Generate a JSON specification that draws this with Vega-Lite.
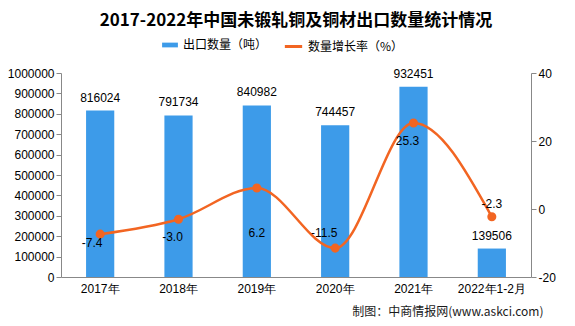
{
  "$schema": "https://vega.github.io/schema/vega-lite/v6.json",
  "width": 470,
  "height": 204,
  "autosize": {"type": "none"},
  "padding": {"left": 61, "top": 73, "right": 44, "bottom": 49},
  "background": "white",
  "config": {
    "view": {"stroke": null},
    "font": "Noto Sans CJK SC",
    "locale": {"number": {"decimal": ".", "thousands": ",", "grouping": [3], "currency": ["$", ""], "minus": "-"}},
    "axis": {"domainColor": "#888888", "tickColor": "#888888", "labelColor": "#000000", "labelFont": "Liberation Sans", "labelFontSize": 12, "grid": false, "labelOverlap": false}
  },
  "title": {
    "text": "2017-2022年中国未锻轧铜及铜材出口数量统计情况",
    "font": "Noto Sans CJK SC",
    "fontSize": 17,
    "fontWeight": "bold",
    "color": "#000000",
    "anchor": "middle",
    "offset": 6
  },
  "data": {
    "values": [
      {"year": "2017年", "qty": 816024, "growth": -7.4, "s1": "出口数量（吨）", "s2": "数量增长率（%）"},
      {"year": "2018年", "qty": 791734, "growth": -3.0, "s1": "出口数量（吨）", "s2": "数量增长率（%）"},
      {"year": "2019年", "qty": 840982, "growth": 6.2, "s1": "出口数量（吨）", "s2": "数量增长率（%）"},
      {"year": "2020年", "qty": 744457, "growth": -11.5, "s1": "出口数量（吨）", "s2": "数量增长率（%）"},
      {"year": "2021年", "qty": 932451, "growth": 25.3, "s1": "出口数量（吨）", "s2": "数量增长率（%）"},
      {"year": "2022年1-2月", "qty": 139506, "growth": -2.3, "s1": "出口数量（吨）", "s2": "数量增长率（%）"}
    ]
  },
  "encoding": {
    "x": {
      "field": "year", "type": "nominal", "sort": null,
      "scale": {"paddingInner": 0.64, "paddingOuter": 0.32},
      "axis": {"labelAngle": 0, "title": "制图：中商情报网(www.askci.com)", "titleX": 482, "titleAlign": "right", "titleFontSize": 12, "titleFontWeight": "normal", "titleColor": "#1a1a1a", "titlePadding": 12, "ticks": false, "labelPadding": 6}
    }
  },
  "layer": [
    {
      "encoding": {
        "y": {"field": "qty", "type": "quantitative", "scale": {"domain": [0, 1000000]}, "axis": {"title": null, "format": "d", "values": [0,100000,200000,300000,400000,500000,600000,700000,800000,900000,1000000], "labelFontSize": 12, "labelOverlap": false}}
      },
      "layer": [
        {
          "mark": {"type": "bar"},
          "encoding": {
            "fill": {"field": "s1", "type": "nominal", "scale": {"range": ["#3d9be9"]}, "legend": {"title": null, "orient": "none", "legendX": 100, "legendY": -37, "symbolType": "M-1,-0.3L1,-0.3L1,0.3L-1,0.3Z", "symbolSize": 250, "labelFontSize": 12, "labelColor": "#000000"}}
          }
        },
        {
          "mark": {"type": "text", "baseline": "bottom", "dy": -6, "font": "Liberation Sans", "fontSize": 12, "color": "#000000"},
          "encoding": {
            "text": {"field": "qty", "type": "quantitative", "format": "d"}
          }
        }
      ]
    },
    {
      "encoding": {
        "y": {"field": "growth", "type": "quantitative", "scale": {"domain": [-20, 40]}, "axis": {"orient": "right", "title": null, "values": [-20, 0, 20, 40], "labelFontSize": 12}}
      },
      "layer": [
        {
          "mark": {"type": "line", "interpolate": "monotone", "strokeWidth": 2.5, "point": {"filled": true, "size": 50, "color": "#f26522"}},
          "encoding": {
            "stroke": {"field": "s2", "type": "nominal", "scale": {"range": ["#f26522"]}, "legend": {"title": null, "orient": "none", "legendX": 222, "legendY": -37, "symbolType": "stroke", "symbolStrokeWidth": 3, "symbolSize": 300, "labelFontSize": 12, "labelColor": "#000000"}}
          }
        },
        {
          "transform": [{"filter": "datum.growth == -3.0 || datum.growth == 25.3"}],
          "mark": {"type": "text", "dy": 18, "dx": -6, "font": "Liberation Sans", "fontSize": 12, "color": "#000000"},
          "encoding": {
            "text": {"field": "growth", "type": "quantitative", "format": ".1f"}
          }
        },
        {
          "transform": [{"filter": "datum.growth == -7.4"}],
          "mark": {"type": "text", "dy": 9, "dx": -8, "font": "Liberation Sans", "fontSize": 12, "color": "#000000"},
          "encoding": {
            "text": {"field": "growth", "type": "quantitative", "format": ".1f"}
          }
        },
        {
          "transform": [{"filter": "datum.growth == 6.2"}],
          "mark": {"type": "text", "dy": 45, "font": "Liberation Sans", "fontSize": 12, "color": "#000000"},
          "encoding": {
            "text": {"field": "growth", "type": "quantitative", "format": ".1f"}
          }
        },
        {
          "transform": [{"filter": "datum.growth == -11.5"}],
          "mark": {"type": "text", "dy": -15, "dx": -11, "font": "Liberation Sans", "fontSize": 12, "color": "#000000"},
          "encoding": {
            "text": {"field": "growth", "type": "quantitative", "format": ".1f"}
          }
        },
        {
          "transform": [{"filter": "datum.growth == -2.3"}],
          "mark": {"type": "text", "dy": -13, "font": "Liberation Sans", "fontSize": 12, "color": "#000000"},
          "encoding": {
            "text": {"field": "growth", "type": "quantitative", "format": ".1f"}
          }
        }
      ]
    }
  ],
  "resolve": {"scale": {"y": "independent"}}
}
